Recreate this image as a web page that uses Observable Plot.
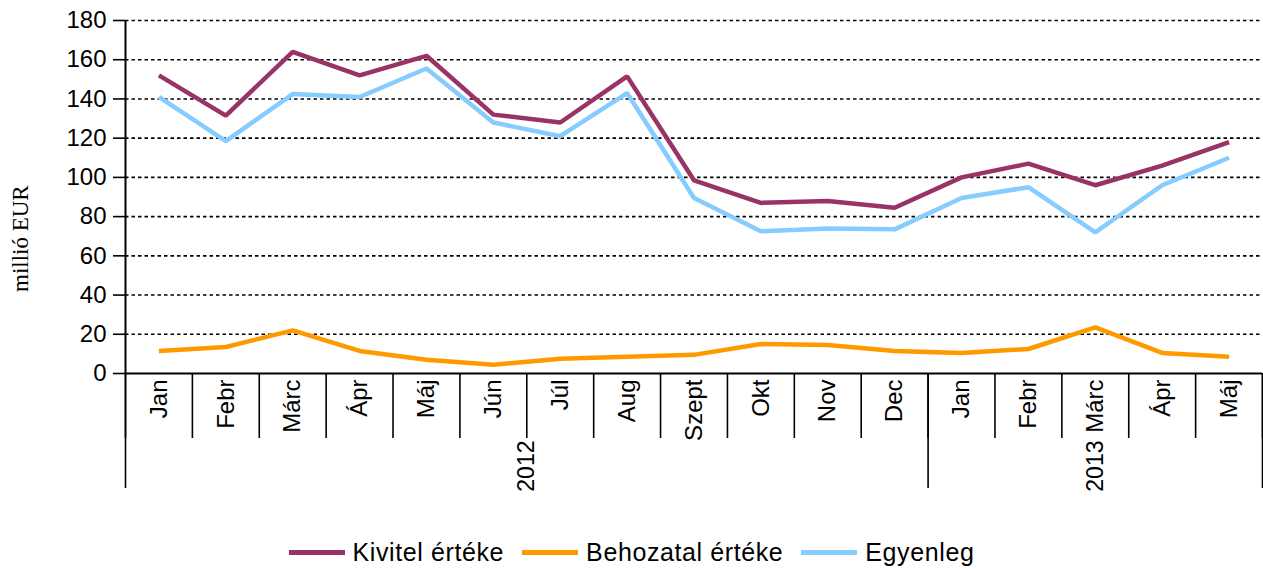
<!DOCTYPE html>
<html>
<head>
<meta charset="utf-8">
<script src="https://cdn.jsdelivr.net/npm/d3@7"></script>
<script src="https://cdn.jsdelivr.net/npm/@observablehq/plot@0.6"></script>
<style>
  html, body { margin: 0; padding: 0; background: #fff; }
  #chart svg { display: block; }
  .legend { display: flex; justify-content: center; align-items: center; height: 39px; padding-top: 5px; box-sizing: border-box;
            font-family: "Liberation Sans", Arial, sans-serif; font-size: 25px; letter-spacing: 0.6px; color: #000; }
  .legend .item { display: flex; align-items: center; margin: 0 9px; }
  .legend .sw { width: 56px; height: 5px; margin-right: 8px; }
</style>
</head>
<body>
<div id="chart"></div>
<div class="legend" id="legend"></div>
<script>
// ---- data ----
const months = ["Jan","Febr","Márc","Ápr","Máj","Jún","Júl","Aug","Szept","Okt","Nov","Dec","Jan","Febr","Márc","Ápr","Máj"];
const yearLabels = ["2012", "2013"];
const yearMonthCounts = [12, 5];
const kivitel   = [152, 131.5, 164, 152, 162, 132, 128, 151.5, 98.5, 87, 88, 84.5, 100, 107, 96, 106, 118];
const behozatal = [11.5, 13.5, 22, 11.5, 7, 4.5, 7.5, 8.5, 9.5, 15, 14.5, 11.5, 10.5, 12.5, 23.5, 10.5, 8.5];
const egyenleg  = [141, 118.5, 142.5, 141, 155.5, 128, 121, 143, 89.5, 72.5, 74, 73.5, 89.5, 95, 72, 96, 110];
const seriesNames = ["Kivitel értéke", "Behozatal értéke", "Egyenleg"];
const seriesColors = ["#993366", "#FF9900", "#87CCFF"];
const yTicks = [0, 20, 40, 60, 80, 100, 120, 140, 160, 180];
const yLabel = "millió EUR";

// ---- derived tables ----
const seriesValues = [kivitel, behozatal, egyenleg];
const rows = [];
seriesNames.forEach((s, k) => seriesValues[k].forEach((v, i) => rows.push({series: s, pos: i + 0.5, value: v})));
const monthCenters = months.map((_, i) => i + 0.5);
const boundaries = d3.range(months.length + 1);
const yearStarts = d3.cumsum([0, ...yearMonthCounts]);
const yearBoundaries = Array.from(yearStarts);
const yearCenters = yearLabels.map((_, k) => yearStarts[k] + yearMonthCounts[k] / 2);
const yearByCenter = new Map(yearCenters.map((c, k) => [c, yearLabels[k]]));

const font = "'Liberation Sans', Arial, sans-serif";
const chart = Plot.plot({
  width: 1263,
  height: 530,
  marginLeft: 125,
  marginRight: 1,
  marginTop: 20,
  marginBottom: 157,
  style: {fontFamily: font, fontSize: "23px", color: "#000", background: "#fff", overflow: "visible"},
  x: {type: "linear", domain: [0, months.length], axis: null},
  y: {domain: [0, 180], axis: null},
  color: {domain: seriesNames, range: seriesColors},
  marks: [
    Plot.gridY(yTicks.slice(1), {stroke: "#000", strokeOpacity: 1, strokeWidth: 1.6, strokeDasharray: "3.5,3"}),
    Plot.axisY(yTicks, {tickSize: 12, tickPadding: 7, fontSize: 24, strokeWidth: 1.6, label: null}),
    // month separator ticks
    Plot.axisX(boundaries, {tickSize: 65, tickFormat: () => "", strokeWidth: 1.6, label: null}),
    // year separator ticks
    Plot.axisX(yearBoundaries, {tickSize: 115, tickFormat: () => "", strokeWidth: 1.6, label: null}),
    // month labels
    Plot.axisX(monthCenters, {tickSize: 0, tickPadding: 6, tickRotate: -90, fontSize: 24, letterSpacing: "0.8px", tickFormat: d => months[Math.floor(d)], label: null}),
    // year labels
    Plot.axisX(yearCenters, {tickSize: 0, tickPadding: 67, tickRotate: -90, fontSize: 23, tickFormat: d => yearByCenter.get(d), label: null}),
    Plot.ruleX([0], {stroke: "#000", strokeWidth: 2}),
    Plot.ruleY([0], {stroke: "#000", strokeWidth: 2}),
    Plot.lineY(rows, {x: "pos", y: "value", stroke: "series", strokeWidth: 4.5, strokeLinejoin: "miter", strokeLinecap: "butt"}),
    Plot.text([yLabel], {frameAnchor: "left", rotate: -90, dx: -105, dy: 95, fontFamily: "'Liberation Serif', 'Times New Roman', serif", fontSize: 23})
  ]
});
document.getElementById("chart").appendChild(chart);

const legend = document.getElementById("legend");
seriesNames.forEach((s, k) => {
  const it = document.createElement("div");
  it.className = "item";
  const sw = document.createElement("span");
  sw.className = "sw";
  sw.style.background = seriesColors[k];
  const tx = document.createElement("span");
  tx.textContent = s;
  it.appendChild(sw); it.appendChild(tx);
  legend.appendChild(it);
});
</script>
</body>
</html>
